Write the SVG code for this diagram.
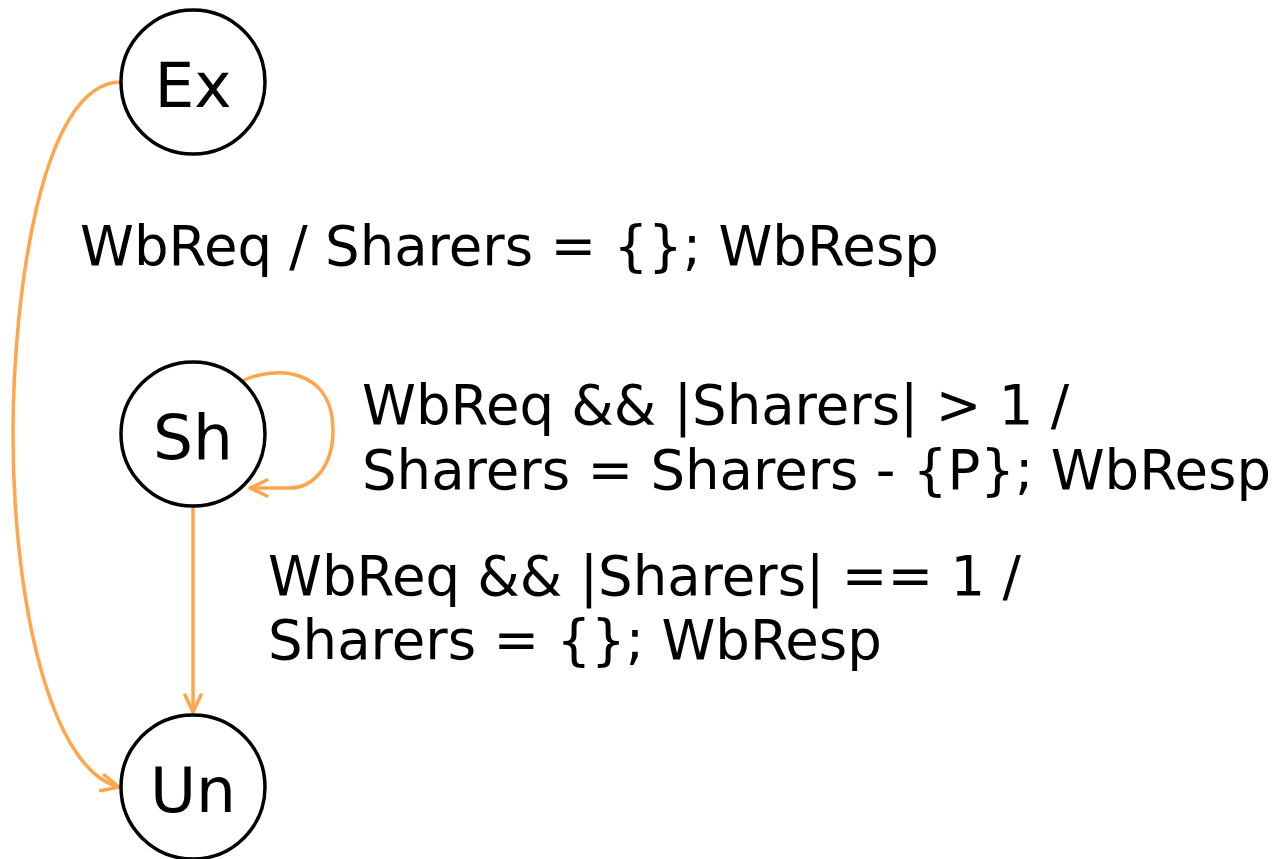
<svg xmlns="http://www.w3.org/2000/svg" width="1276" height="859" viewBox="0 0 1276 859">
<style>
.node{fill:#fff;stroke:#000;stroke-width:3.5}
.lbl{font-family:"DejaVu Sans",Verdana,sans-serif;font-size:54.5px;fill:#000}
.nl{font-family:"DejaVu Sans",Verdana,sans-serif;font-size:63px;fill:#000;text-anchor:middle}
.edge{fill:none;stroke:#FFA64D;stroke-width:3.5;stroke-linecap:round}
</style>
<defs>
<marker id="arr" viewBox="0 0 20 20" refX="19" refY="10" markerWidth="20" markerHeight="20" markerUnits="userSpaceOnUse" orient="auto">
<path d="M2,2 L19,10 L2,18" fill="none" stroke="#FFA64D" stroke-width="3.5" stroke-linecap="round" stroke-linejoin="round"/>
</marker>
</defs>
<g id="edges">
<path class="edge" d="M121,82 C40,82 13,300 13,434 C13,600 50,770 119,787" marker-end="url(#arr)"/>
<path class="edge" d="M242,381 C275,365 333,368 333,430 C333,470 310,488 290,488 L250,488" marker-end="url(#arr)"/>
<path class="edge" d="M193,506 L193,712" marker-end="url(#arr)"/>
</g>
<g id="Ex"><circle class="node" cx="193" cy="82" r="72"/><text class="nl" x="193" y="107">Ex</text></g>
<g id="Sh"><circle class="node" cx="193" cy="434" r="72"/><text class="nl" x="193" y="459">Sh</text></g>
<g id="Un"><circle class="node" cx="193" cy="787" r="72"/><text class="nl" x="193" y="812">Un</text></g>
<g id="labels">
<text class="lbl" x="80" y="265">WbReq / Sharers = {}; WbResp</text>
<text class="lbl" x="362" y="424">WbReq &amp;&amp; |Sharers| &gt; 1 /</text>
<text class="lbl" x="362" y="489">Sharers = Sharers - {P}; WbResp</text>
<text class="lbl" x="268" y="595">WbReq &amp;&amp; |Sharers| == 1 /</text>
<text class="lbl" x="268" y="659">Sharers = {}; WbResp</text>
</g>
</svg>
